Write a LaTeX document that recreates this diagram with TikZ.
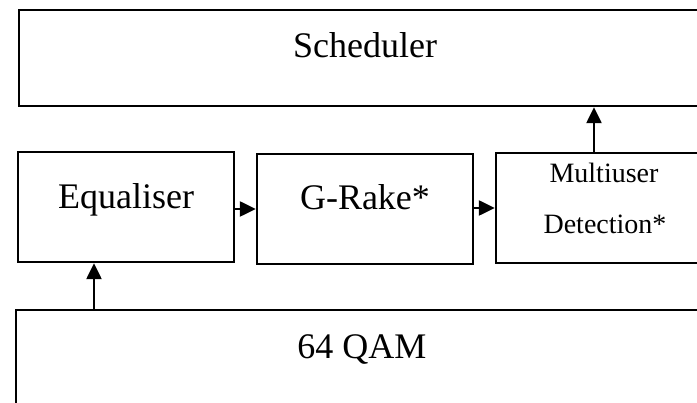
\documentclass[tikz,border=0pt]{standalone}
\usepackage{fontspec}
\setmainfont{Liberation Serif}
\usetikzlibrary{arrows.meta}
\tikzset{
  blk/.style={draw=black, line width=2.4pt, rectangle, inner sep=0pt},
  lbl/.style={inner sep=0pt, anchor=base, font=\fontsize{36}{40}\selectfont},
  lblsmall/.style={inner sep=0pt, anchor=base, font=\fontsize{28}{32}\selectfont},
  flow/.style={line width=2.4pt, -{Triangle[length=16pt,width=15pt]}}
}
\begin{document}
\begin{tikzpicture}[x=1pt,y=-1pt]
  \useasboundingbox (0,0) rectangle (697,403);
  \clip (0,0) rectangle (697,403);
  \fill[white] (0,0) rectangle (697,403);

  % processing blocks
  \node[blk, minimum width=692pt, minimum height=96pt]  (sch) at (365,58)  {};
  \node[blk, minimum width=216pt, minimum height=110pt] (eq)  at (126,207) {};
  \node[blk, minimum width=216pt, minimum height=110pt] (gr)  at (365,209) {};
  \node[blk, minimum width=216pt, minimum height=110pt] (md)  at (604,208) {};
  \node[blk, minimum width=692pt, minimum height=100pt] (qam) at (362,360) {};

  % block labels
  \node[lbl] (tsch) at (365,57.3)  {Scheduler};
  \node[lbl] (teq)  at (126,208.3) {Equaliser};
  \node[lbl] (tgr)  at (365,209.3) {G-Rake*};
  \node[lblsmall] (tmd1) at (604,182.7) {Multiuser};
  \node[lblsmall] (tmd2) at (605,234)   {Detection*};
  \node[lbl] (tqam) at (362,359)   {64 QAM};

  % signal flow
  \coordinate (upA) at (94,0);
  \coordinate (upB) at (594,0);
  \draw[flow] (upA |- qam.north) -- (upA |- eq.south);
  \draw[flow] (eq.east |- gr.west) -- (gr.west);
  \draw[flow] (gr.east |- md.west) -- (md.west);
  \draw[flow] (upB |- md.north) -- (upB |- sch.south);
\end{tikzpicture}
\end{document}
